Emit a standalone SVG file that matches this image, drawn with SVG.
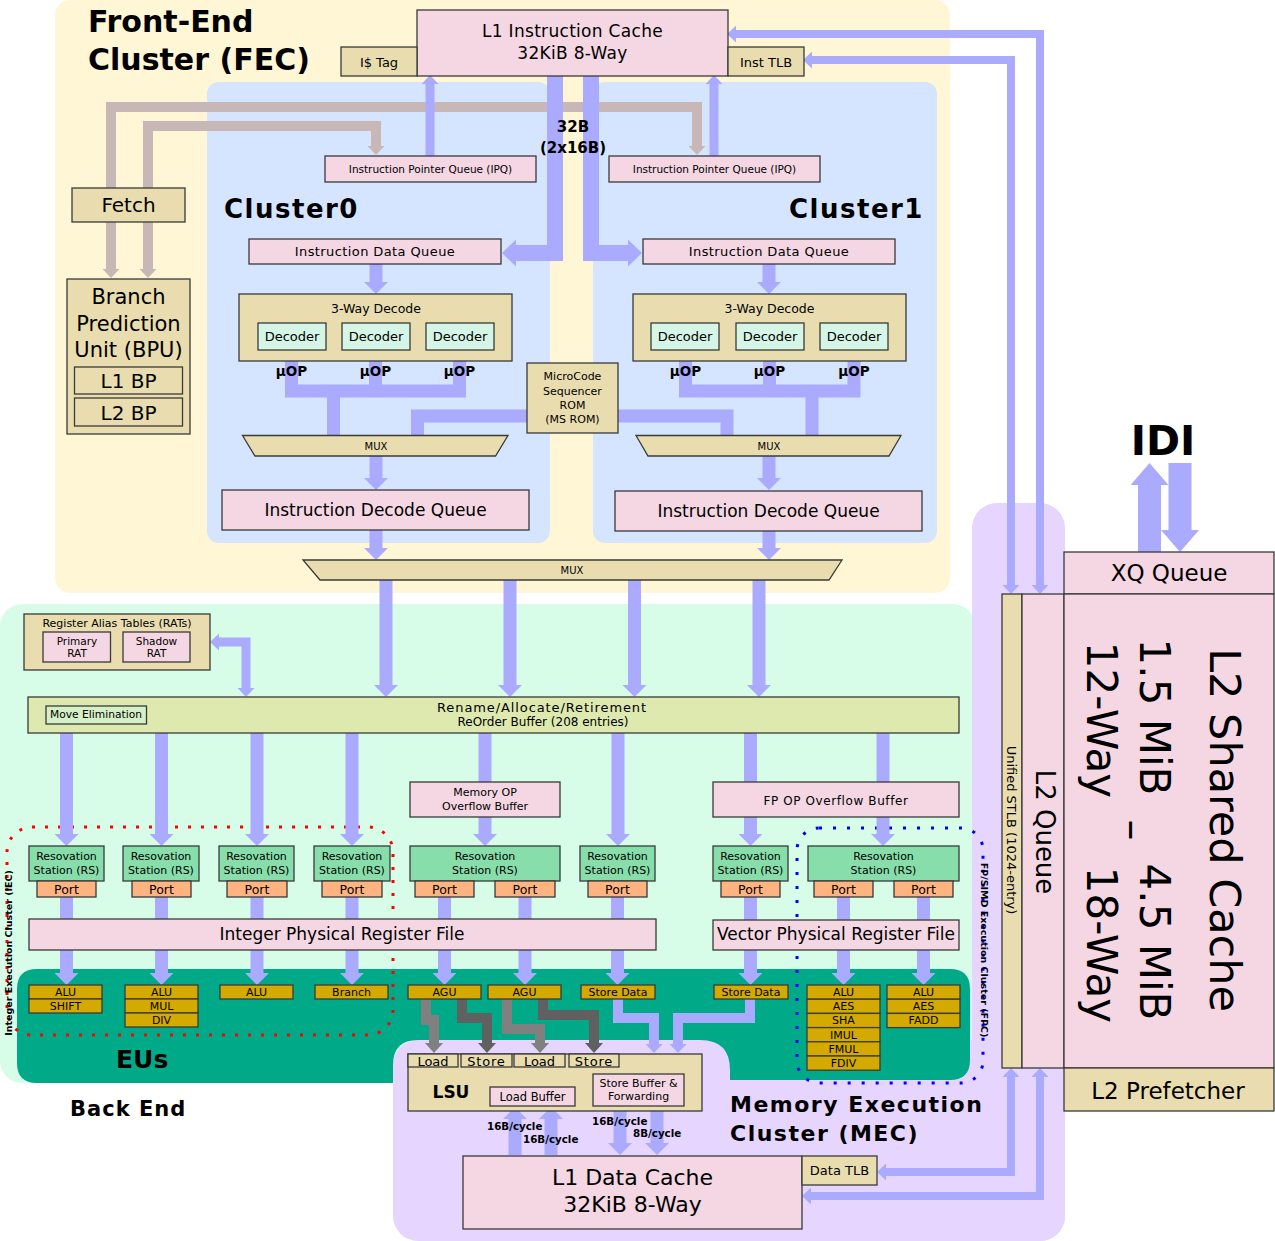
<svg xmlns="http://www.w3.org/2000/svg" width="1275" height="1241" viewBox="0 0 1275 1241">
<style>
text{font-family:"DejaVu Sans","Liberation Sans",sans-serif;fill:#000}
.c{text-anchor:middle}
.b{font-weight:bold}
.bx{stroke:#3a3a3a;stroke-width:1.3}
.pk{fill:#f4d7e3}
.tn{fill:#e9ddaf}
.mn{fill:#d5f6e6}
.rs{fill:#87deaa}
.pt{fill:#ffb380}
.eu{fill:#d4aa00}
.a{fill:none;stroke:#aaaaff;stroke-width:13}
.as{fill:none;stroke:#aaaaff;stroke-width:9}
.at{fill:none;stroke:#aaaaff;stroke-width:8}
.a10{fill:none;stroke:#aaaaff;stroke-width:10}
.aw{fill:none;stroke:#aaaaff;stroke-width:16}
.ai{fill:none;stroke:#aaaaff;stroke-width:23}
.abr{fill:none;stroke:#c8b7b7;stroke-width:10}
.ag1{fill:none;stroke:#808080;stroke-width:10}
.ag2{fill:none;stroke:#606060;stroke-width:10}
.mA{marker-end:url(#mA)}
.mS{marker-end:url(#mS)}
.mSS{marker-start:url(#mS);marker-end:url(#mS)}
.mW{marker-end:url(#mW)}
.mI{marker-end:url(#mI)}
.mB{marker-end:url(#mB)}
.mG1{marker-end:url(#mG1)}
.mG2{marker-end:url(#mG2)}
</style>
<defs>
<marker id="mA" markerUnits="userSpaceOnUse" viewBox="0 0 12 24" markerWidth="12" markerHeight="24" refX="1" refY="12" orient="auto-start-reverse"><path d="M0,0 L12,12 L0,24 Z" fill="#aaaaff"/></marker>
<marker id="mS" markerUnits="userSpaceOnUse" viewBox="0 0 9 17" markerWidth="9" markerHeight="17" refX="1" refY="8.5" orient="auto-start-reverse"><path d="M0,0 L9,8.5 L0,17 Z" fill="#aaaaff"/></marker>
<marker id="mW" markerUnits="userSpaceOnUse" viewBox="0 0 14 27" markerWidth="14" markerHeight="27" refX="1" refY="13.5" orient="auto-start-reverse"><path d="M0,0 L14,13.5 L0,27 Z" fill="#aaaaff"/></marker>
<marker id="mI" markerUnits="userSpaceOnUse" viewBox="0 0 22 38" markerWidth="22" markerHeight="38" refX="1" refY="19" orient="auto-start-reverse"><path d="M0,0 L22,19 L0,38 Z" fill="#aaaaff"/></marker>
<marker id="mB" markerUnits="userSpaceOnUse" viewBox="0 0 9 17" markerWidth="9" markerHeight="17" refX="1" refY="8.5" orient="auto-start-reverse"><path d="M0,0 L9,8.5 L0,17 Z" fill="#c8b7b7"/></marker>
<marker id="mG1" markerUnits="userSpaceOnUse" viewBox="0 0 10 18" markerWidth="10" markerHeight="18" refX="1" refY="9" orient="auto-start-reverse"><path d="M0,0 L10,9 L0,18 Z" fill="#808080"/></marker>
<marker id="mG2" markerUnits="userSpaceOnUse" viewBox="0 0 10 18" markerWidth="10" markerHeight="18" refX="1" refY="9" orient="auto-start-reverse"><path d="M0,0 L10,9 L0,18 Z" fill="#606060"/></marker>
</defs>

<!-- background regions -->
<g id="regions">
<rect x="55" y="0" width="895" height="593" rx="15" fill="#fff6d5"/>
<rect x="207" y="82" width="343" height="461" rx="12" fill="#d5e5ff"/>
<rect x="593" y="82" width="344" height="461" rx="12" fill="#d5e5ff"/>
<rect x="0" y="604" width="975" height="479" rx="22" fill="#d7fde9"/>
<rect x="972" y="503" width="93" height="738" rx="25" fill="#e5d5ff"/>
<rect x="393" y="1040" width="672" height="201" rx="25" fill="#e5d5ff"/>
<path d="M37,969 H950 Q970,969 970,989 V1060 Q970,1080 950,1080 H730 V1070 Q730,1040 700,1040 H418 Q393,1040 393,1065 V1083 H37 Q17,1083 17,1063 V989 Q17,969 37,969 Z" fill="#00aa88"/>
<rect x="7" y="827" width="386" height="208" rx="25" fill="none" stroke="#ff0000" stroke-width="3" stroke-dasharray="3 10"/>
<rect x="797" y="828" width="186" height="255" rx="22" fill="none" stroke="#0000ff" stroke-width="3" stroke-dasharray="3 11"/>
</g>

<!-- connectors -->
<g id="connectors">
<path class="abr mB" d="M111,188 V107 H697 V147"/>
<path class="abr mB" d="M148,188 V126 H376 V147"/>
<path class="abr mB" d="M111,222 V270"/>
<path class="abr mB" d="M148,222 V270"/>
<path class="as mS" d="M430,156 V83"/>
<path class="as mS" d="M714,156 V83"/>
<path class="aw mW" d="M555,76 V253 H515"/>
<path class="aw mW" d="M591,76 V253 H629"/>
<path class="a mA" d="M376,264 V283"/>
<path class="a mA" d="M769,264 V283"/>
<path class="a" d="M291.5,361 V391 M375.5,361 V391 M459.5,361 V391 M285,391 H466 M333.5,391 V436"/>
<path class="a" d="M527,416 H417.5 V436"/>
<path class="a" d="M685.5,361 V391 M769.5,361 V391 M854,361 V391 M679,391 H860.5 M812,391 V436"/>
<path class="a" d="M618,416 H727 V436"/>
<path class="a mA" d="M376,456 V479"/>
<path class="a mA" d="M769,456 V479"/>
<path class="a mA" d="M376,530 V549"/>
<path class="a mA" d="M769,531 V549"/>
<path class="a mA" d="M386,580 V686"/>
<path class="a mA" d="M510,580 V686"/>
<path class="a mA" d="M634.5,580 V686"/>
<path class="a mA" d="M759,580 V686"/>
<path class="as mSS" d="M246,689 V642 H218"/>
<path class="a mA" d="M66.5,733 V835"/>
<path class="a mA" d="M161.5,733 V835"/>
<path class="a mA" d="M257,733 V835"/>
<path class="a mA" d="M352,733 V835"/>
<path class="a" d="M485,733 V783"/>
<path class="a mA" d="M485,817 V835"/>
<path class="a mA" d="M618,733 V835"/>
<path class="a" d="M750.5,733 V783"/>
<path class="a mA" d="M750.5,817 V835"/>
<path class="a" d="M883,733 V783"/>
<path class="a mA" d="M883,817 V835"/>
<path class="a" d="M66.5,897 V920 M161.5,897 V920 M257,897 V920 M352,897 V920 M444.5,897 V920 M525,897 V920 M617.5,897 V920 M750.5,897 V920 M843.5,897 V920 M923.5,897 V920"/>
<path class="a mA" d="M66.5,950 V974"/>
<path class="a mA" d="M161.5,950 V974"/>
<path class="a mA" d="M257,950 V974"/>
<path class="a mA" d="M352,950 V974"/>
<path class="a mA" d="M444.5,950 V974"/>
<path class="a mA" d="M525,950 V974"/>
<path class="a mA" d="M617.5,950 V974"/>
<path class="a mA" d="M750.5,950 V974"/>
<path class="a mA" d="M843.5,950 V974"/>
<path class="a mA" d="M923.5,950 V974"/>
<path class="ag1 mG1" d="M426,999 V1020 H434 V1044"/>
<path class="ag2 mG2" d="M462,999 V1018 H487 V1044"/>
<path class="ag1 mG1" d="M507,999 V1029 H540 V1044"/>
<path class="ag2 mG2" d="M543,999 V1015 H594 V1044"/>
<path class="a10 mS" d="M618,999 V1018 H654 V1045"/>
<path class="a10 mS" d="M750,999 V1018 H678 V1045"/>
<path class="a mA" d="M515,1155 V1118"/>
<path class="a mA" d="M551,1155 V1118"/>
<path class="a mA" d="M620,1106 V1144"/>
<path class="a mA" d="M657,1106 V1144"/>
<path class="at mSS" d="M1040,586 V34 H735"/>
<path class="at mSS" d="M1011,586 V60 H811"/>
<path class="at mSS" d="M1011,1076 V1172 H885"/>
<path class="at mSS" d="M1040,1076 V1196 H810"/>
<path class="ai mI" d="M1149.5,552 V484"/>
<path class="ai mI" d="M1180,463 V531"/>
</g>

<!-- front end -->
<g id="fec-title">
<text x="88" y="32" font-size="30" class="b">Front-End</text>
<text x="88" y="70" font-size="30" class="b">Cluster (FEC)</text>
</g>
<g id="l1i">
<rect class="bx pk" x="417" y="10" width="311" height="66"/>
<text x="572.5" y="37" font-size="17" class="c" letter-spacing="0.3">L1 Instruction Cache</text>
<text x="572.5" y="59" font-size="17" class="c" letter-spacing="0.3">32KiB 8-Way</text>
</g>
<g id="itag">
<rect class="bx tn" x="341" y="47" width="76" height="29"/>
<text x="379" y="67" font-size="13" class="c">I$ Tag</text>
</g>
<g id="itlb">
<rect class="bx tn" x="728" y="47" width="76" height="29"/>
<text x="766" y="67" font-size="13" class="c">Inst TLB</text>
</g>
<g id="fetch">
<rect class="bx tn" x="72" y="188" width="113" height="34"/>
<text x="128.5" y="212" font-size="20" class="c">Fetch</text>
</g>
<g id="bpu">
<rect class="bx tn" x="67" y="279" width="123" height="155"/>
<text x="128.5" y="304" font-size="21" class="c">Branch</text>
<text x="128.5" y="331" font-size="21" class="c">Prediction</text>
<text x="128.5" y="357" font-size="21" class="c">Unit (BPU)</text>
<rect class="bx tn" x="74.5" y="367" width="108" height="27"/>
<text x="128.5" y="388" font-size="20" class="c">L1 BP</text>
<rect class="bx tn" x="74.5" y="398" width="108" height="28"/>
<text x="128.5" y="420" font-size="20" class="c">L2 BP</text>
</g>
<g id="ipq0">
<rect class="bx pk" x="325" y="156" width="211" height="26"/>
<text x="430.5" y="173" font-size="10.5" class="c">Instruction Pointer Queue (IPQ)</text>
</g>
<g id="ipq1">
<rect class="bx pk" x="609" y="156" width="211" height="26"/>
<text x="714.5" y="173" font-size="10.5" class="c">Instruction Pointer Queue (IPQ)</text>
</g>
<g id="lbl-32b">
<text x="573" y="132" font-size="15" class="c b">32B</text>
<text x="573" y="153" font-size="15" class="c b">(2x16B)</text>
</g>
<g id="cluster-labels">
<text x="224" y="218" font-size="26" class="b" letter-spacing="1.5">Cluster0</text>
<text x="789" y="218" font-size="26" class="b" letter-spacing="1.5">Cluster1</text>
</g>
<g id="idq0">
<rect class="bx pk" x="249" y="239" width="252" height="25"/>
<text x="375" y="256" font-size="13" class="c" letter-spacing="0.4">Instruction Data Queue</text>
</g>
<g id="idq1">
<rect class="bx pk" x="643" y="239" width="252" height="25"/>
<text x="769" y="256" font-size="13" class="c" letter-spacing="0.4">Instruction Data Queue</text>
</g>
<g id="decode0">
<rect class="bx tn" x="239" y="294" width="273" height="67"/>
<text x="376" y="313" font-size="12.5" class="c">3-Way Decode</text>
<rect class="bx mn" x="258" y="323" width="68" height="27"/>
<text x="292" y="341" font-size="13" class="c">Decoder</text>
<rect class="bx mn" x="342" y="323" width="68" height="27"/>
<text x="376" y="341" font-size="13" class="c">Decoder</text>
<rect class="bx mn" x="426" y="323" width="68" height="27"/>
<text x="460" y="341" font-size="13" class="c">Decoder</text>
</g>
<g id="decode1">
<rect class="bx tn" x="633" y="294" width="273" height="67"/>
<text x="769.5" y="313" font-size="12.5" class="c">3-Way Decode</text>
<rect class="bx mn" x="651" y="323" width="68" height="27"/>
<text x="685" y="341" font-size="13" class="c">Decoder</text>
<rect class="bx mn" x="736" y="323" width="68" height="27"/>
<text x="770" y="341" font-size="13" class="c">Decoder</text>
<rect class="bx mn" x="820" y="323" width="68" height="27"/>
<text x="854" y="341" font-size="13" class="c">Decoder</text>
</g>
<g id="uop-labels">
<text x="291.5" y="376" font-size="13.5" class="c b">μOP</text>
<text x="375.5" y="376" font-size="13.5" class="c b">μOP</text>
<text x="459.5" y="376" font-size="13.5" class="c b">μOP</text>
<text x="685.5" y="376" font-size="13.5" class="c b">μOP</text>
<text x="769.5" y="376" font-size="13.5" class="c b">μOP</text>
<text x="854" y="376" font-size="13.5" class="c b">μOP</text>
</g>
<g id="msrom">
<rect class="bx tn" x="527" y="363" width="91" height="70"/>
<text x="572.5" y="380" font-size="11" class="c">MicroCode</text>
<text x="572.5" y="395" font-size="11" class="c">Sequencer</text>
<text x="572.5" y="409" font-size="11" class="c">ROM</text>
<text x="572.5" y="423" font-size="11" class="c">(MS ROM)</text>
</g>
<g id="mux0">
<polygon class="bx tn" points="242.5,435.5 508,435.5 495.5,456 255,456"/>
<text x="376" y="450" font-size="10" class="c">MUX</text>
</g>
<g id="mux1">
<polygon class="bx tn" points="636,435.5 901,435.5 889,456 648,456"/>
<text x="769" y="450" font-size="10" class="c">MUX</text>
</g>
<g id="idecq0">
<rect class="bx pk" x="222" y="490" width="307" height="40"/>
<text x="375.5" y="516" font-size="17" class="c">Instruction Decode Queue</text>
</g>
<g id="idecq1">
<rect class="bx pk" x="615" y="491" width="307" height="40"/>
<text x="768.5" y="517" font-size="17" class="c">Instruction Decode Queue</text>
</g>
<g id="mux2">
<polygon class="bx tn" points="303,560 842,560 829,580 320,580"/>
<text x="572" y="574" font-size="10" class="c">MUX</text>
</g>

<!-- back end -->
<g id="rat">
<rect class="bx tn" x="24" y="614" width="186" height="56"/>
<text x="117" y="627" font-size="11" class="c">Register Alias Tables (RATs)</text>
<rect class="bx pk" x="43" y="632" width="67.5" height="30"/>
<text x="77" y="645" font-size="10.5" class="c">Primary</text>
<text x="77" y="657" font-size="10.5" class="c">RAT</text>
<rect class="bx pk" x="123" y="632" width="67" height="30"/>
<text x="156.5" y="645" font-size="10.5" class="c">Shadow</text>
<text x="156.5" y="657" font-size="10.5" class="c">RAT</text>
</g>
<g id="rob">
<rect class="bx" fill="#dde9af" x="28" y="697" width="931" height="36"/>
<text x="542" y="712" font-size="13" class="c" letter-spacing="0.9">Rename/Allocate/Retirement</text>
<text x="543" y="726" font-size="12" class="c">ReOrder Buffer  (208 entries)</text>
<rect class="bx" fill="#d5f0c6" x="46" y="706" width="100.5" height="18"/>
<text x="96" y="718" font-size="10.7" class="c">Move Elimination</text>
</g>
<g id="memop-buf">
<rect class="bx pk" x="410" y="782" width="150" height="35"/>
<text x="485" y="796" font-size="11" class="c">Memory OP</text>
<text x="485" y="810" font-size="11" class="c">Overflow Buffer</text>
</g>
<g id="fpop-buf">
<rect class="bx pk" x="713" y="782" width="246" height="35"/>
<text x="836" y="805" font-size="12" class="c" letter-spacing="0.6">FP OP Overflow Buffer</text>
</g>

<g id="rs1">
<rect class="bx rs" x="29" y="846" width="75" height="35"/>
<text x="66.5" y="860" font-size="11" class="c">Resovation</text>
<text x="66.5" y="874" font-size="11" class="c">Station (RS)</text>
<rect class="bx pt" x="37" y="881" width="59" height="16"/>
<text x="66.5" y="894" font-size="12.5" class="c">Port</text>
</g>
<g id="rs2">
<rect class="bx rs" x="123" y="846" width="76" height="35"/>
<text x="161" y="860" font-size="11" class="c">Resovation</text>
<text x="161" y="874" font-size="11" class="c">Station (RS)</text>
<rect class="bx pt" x="132" y="881" width="59" height="16"/>
<text x="161.5" y="894" font-size="12.5" class="c">Port</text>
</g>
<g id="rs3">
<rect class="bx rs" x="219" y="846" width="75" height="35"/>
<text x="256.5" y="860" font-size="11" class="c">Resovation</text>
<text x="256.5" y="874" font-size="11" class="c">Station (RS)</text>
<rect class="bx pt" x="227" y="881" width="60" height="16"/>
<text x="257" y="894" font-size="12.5" class="c">Port</text>
</g>
<g id="rs4">
<rect class="bx rs" x="314" y="846" width="76" height="35"/>
<text x="352" y="860" font-size="11" class="c">Resovation</text>
<text x="352" y="874" font-size="11" class="c">Station (RS)</text>
<rect class="bx pt" x="322" y="881" width="60" height="16"/>
<text x="352" y="894" font-size="12.5" class="c">Port</text>
</g>
<g id="rs5">
<rect class="bx rs" x="410" y="846" width="150" height="35"/>
<text x="485" y="860" font-size="11" class="c">Resovation</text>
<text x="485" y="874" font-size="11" class="c">Station (RS)</text>
<rect class="bx pt" x="415" y="881" width="59" height="16"/>
<text x="444.5" y="894" font-size="12.5" class="c">Port</text>
<rect class="bx pt" x="495" y="881" width="60" height="16"/>
<text x="525" y="894" font-size="12.5" class="c">Port</text>
</g>
<g id="rs6">
<rect class="bx rs" x="580" y="846" width="75" height="35"/>
<text x="617.5" y="860" font-size="11" class="c">Resovation</text>
<text x="617.5" y="874" font-size="11" class="c">Station (RS)</text>
<rect class="bx pt" x="588" y="881" width="59" height="16"/>
<text x="617.5" y="894" font-size="12.5" class="c">Port</text>
</g>
<g id="rs7">
<rect class="bx rs" x="713" y="846" width="75" height="35"/>
<text x="750.5" y="860" font-size="11" class="c">Resovation</text>
<text x="750.5" y="874" font-size="11" class="c">Station (RS)</text>
<rect class="bx pt" x="721" y="881" width="59" height="16"/>
<text x="750.5" y="894" font-size="12.5" class="c">Port</text>
</g>
<g id="rs8">
<rect class="bx rs" x="808" y="846" width="151" height="35"/>
<text x="883.5" y="860" font-size="11" class="c">Resovation</text>
<text x="883.5" y="874" font-size="11" class="c">Station (RS)</text>
<rect class="bx pt" x="814" y="881" width="59" height="16"/>
<text x="843.5" y="894" font-size="12.5" class="c">Port</text>
<rect class="bx pt" x="894" y="881" width="59" height="16"/>
<text x="923.5" y="894" font-size="12.5" class="c">Port</text>
</g>
<g id="int-prf">
<rect class="bx pk" x="29" y="919" width="627" height="31"/>
<text x="342" y="940" font-size="17" class="c">Integer Physical Register File</text>
</g>
<g id="vec-prf">
<rect class="bx pk" x="713" y="920" width="246" height="30"/>
<text x="836" y="940" font-size="17" class="c">Vector Physical Register File</text>
</g>

<g id="eus" font-size="11">
<rect class="bx eu" x="29" y="985" width="73" height="14"/><text x="65.5" y="996" font-size="11" class="c">ALU</text>
<rect class="bx eu" x="29" y="999" width="73" height="14"/><text x="65.5" y="1010" font-size="11" class="c">SHIFT</text>
<rect class="bx eu" x="125" y="985" width="73" height="14"/><text x="161.5" y="996" font-size="11" class="c">ALU</text>
<rect class="bx eu" x="125" y="999" width="73" height="14"/><text x="161.5" y="1010" font-size="11" class="c">MUL</text>
<rect class="bx eu" x="125" y="1013" width="73" height="14"/><text x="161.5" y="1024" font-size="11" class="c">DIV</text>
<rect class="bx eu" x="220" y="985" width="73" height="14"/><text x="256.5" y="996" font-size="11" class="c">ALU</text>
<rect class="bx eu" x="315" y="985" width="73" height="14"/><text x="351.5" y="996" font-size="11" class="c">Branch</text>
<rect class="bx eu" x="408" y="985" width="73" height="14"/><text x="444.5" y="996" font-size="11" class="c">AGU</text>
<rect class="bx eu" x="488" y="985" width="73" height="14"/><text x="524.5" y="996" font-size="11" class="c">AGU</text>
<rect class="bx eu" x="581" y="985" width="74" height="14"/><text x="618" y="996" font-size="11" class="c">Store Data</text>
<rect class="bx eu" x="714" y="985" width="74" height="14"/><text x="751" y="996" font-size="11" class="c">Store Data</text>
<rect class="bx eu" x="807" y="985" width="73" height="14.2"/><text x="843.5" y="996" font-size="11" class="c">ALU</text>
<rect class="bx eu" x="807" y="999.2" width="73" height="14.2"/><text x="843.5" y="1010.2" font-size="11" class="c">AES</text>
<rect class="bx eu" x="807" y="1013.4" width="73" height="14.2"/><text x="843.5" y="1024.4" font-size="11" class="c">SHA</text>
<rect class="bx eu" x="807" y="1027.6" width="73" height="14.2"/><text x="843.5" y="1038.6" font-size="11" class="c">IMUL</text>
<rect class="bx eu" x="807" y="1041.8" width="73" height="14.2"/><text x="843.5" y="1052.8" font-size="11" class="c">FMUL</text>
<rect class="bx eu" x="807" y="1056" width="73" height="14.2"/><text x="843.5" y="1067" font-size="11" class="c">FDIV</text>
<rect class="bx eu" x="887" y="985" width="73" height="14.2"/><text x="923.5" y="996" font-size="11" class="c">ALU</text>
<rect class="bx eu" x="887" y="999.2" width="73" height="14.2"/><text x="923.5" y="1010.2" font-size="11" class="c">AES</text>
<rect class="bx eu" x="887" y="1013.4" width="73" height="14.2"/><text x="923.5" y="1024.4" font-size="11" class="c">FADD</text>
</g>

<g id="lsu">
<rect class="bx tn" x="408" y="1054" width="294" height="57"/>
<rect class="bx tn" x="408" y="1054" width="50" height="13"/><text x="433" y="1066" font-size="13" class="c">Load</text>
<rect class="bx tn" x="461" y="1054" width="51" height="13"/><text x="486.5" y="1066" font-size="13" class="c" letter-spacing="0.8">Store</text>
<rect class="bx tn" x="514" y="1054" width="51" height="13"/><text x="539.5" y="1066" font-size="13" class="c">Load</text>
<rect class="bx tn" x="569" y="1054" width="50" height="13"/><text x="594" y="1066" font-size="13" class="c" letter-spacing="0.8">Store</text>
<text x="451" y="1098" font-size="17" class="c b">LSU</text>
<rect class="bx pk" x="490" y="1087" width="85" height="19"/>
<text x="532.5" y="1101" font-size="11.5" class="c">Load Buffer</text>
<rect class="bx pk" x="593" y="1074" width="91" height="32"/>
<text x="638.5" y="1087" font-size="11" class="c">Store Buffer &amp;</text>
<text x="638.5" y="1100" font-size="11" class="c">Forwarding</text>
</g>
<g id="bw-labels" font-size="10.3">
<text x="487" y="1130" font-size="10.3" class="b">16B/cycle</text>
<text x="523" y="1143" font-size="10.3" class="b">16B/cycle</text>
<text x="592" y="1125" font-size="10.3" class="b">16B/cycle</text>
<text x="633" y="1137" font-size="10.3" class="b">8B/cycle</text>
</g>
<g id="l1d">
<rect class="bx pk" x="463" y="1156" width="339" height="73"/>
<text x="632.5" y="1185" font-size="22" class="c">L1 Data Cache</text>
<text x="632.5" y="1212" font-size="22" class="c">32KiB 8-Way</text>
</g>
<g id="dtlb">
<rect class="bx tn" x="802" y="1156" width="75" height="29"/>
<text x="839.5" y="1175" font-size="13" class="c">Data TLB</text>
</g>

<g id="region-labels">
<text x="116" y="1068" font-size="25" class="b">EUs</text>
<text x="70" y="1116" font-size="21" class="b" letter-spacing="1">Back End</text>
<text x="730" y="1112" font-size="22" class="b" letter-spacing="1.5">Memory Execution</text>
<text x="730" y="1141" font-size="22" class="b" letter-spacing="1.5">Cluster (MEC)</text>
<text transform="translate(12,953) rotate(-90)" font-size="9.5" class="c b">Integer Execution Cluster (IEC)</text>
<text transform="translate(981,950) rotate(90)" font-size="9.5" class="c b">FP/SIMD Execution Cluster (FPC)</text>
</g>

<!-- L2 -->
<g id="xq">
<rect class="bx pk" x="1064" y="552" width="210" height="42"/>
<text x="1169" y="581" font-size="23" class="c">XQ Queue</text>
</g>
<g id="stlb">
<rect class="bx tn" x="1002" y="594" width="20" height="474"/>
<text transform="translate(1007,830) rotate(90)" font-size="13" class="c">Unified STLB (1024-entry)</text>
</g>
<g id="l2q">
<rect class="bx pk" x="1022" y="594" width="42" height="474"/>
<text transform="translate(1036,832) rotate(90)" font-size="26" class="c">L2 Queue</text>
</g>
<g id="l2">
<rect class="bx pk" x="1064" y="594" width="210" height="474"/>
<text transform="translate(1210,830) rotate(90)" font-size="43" class="c">L2 Shared Cache</text>
<text transform="translate(1140,717) rotate(90)" font-size="42" class="c">1.5 MiB</text>
<text transform="translate(1119,830) rotate(90)" font-size="42" class="c">–</text>
<text transform="translate(1140,942) rotate(90)" font-size="42" class="c">4.5 MiB</text>
<text transform="translate(1087,720) rotate(90)" font-size="42" class="c">12-Way</text>
<text transform="translate(1087,945) rotate(90)" font-size="42" class="c">18-Way</text>
</g>
<g id="l2pf">
<rect class="bx tn" x="1064" y="1068" width="210" height="43"/>
<text x="1168" y="1099" font-size="23" class="c">L2 Prefetcher</text>
</g>
<g id="idi">
<text x="1163" y="455" font-size="41" class="c b">IDI</text>
</g>
</svg>
